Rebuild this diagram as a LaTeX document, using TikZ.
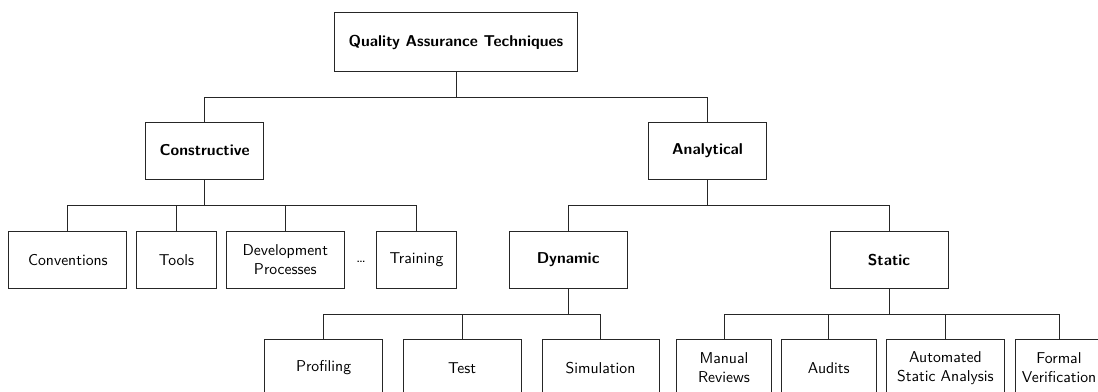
\documentclass[tikz,border=0pt]{standalone}
\tikzset{
  box/.style={draw=black!85, line width=0.6pt, fill=white, minimum height=36.3pt,
              inner sep=2pt, align=center, font=\sffamily},
  hbox/.style={box, font=\sffamily\bfseries},
  link/.style={draw=black!85, line width=0.6pt},
}
\begin{document}
\begin{tikzpicture}[x=0.637pt,y=-0.637pt]
\useasboundingbox (0,0) rectangle (1098,392);
% root
\node[hbox, minimum width=154.8pt, minimum height=37pt] (qa) at (456,42) {Quality Assurance Techniques};
% level 1
\node[hbox, minimum width=75.2pt] (cons) at (204.7,150.5) {Constructive};
\node[hbox, minimum width=75.2pt] (anal) at (707.6,150.5) {Analytical};
% constructive side
\node[box, minimum width=75.2pt] (conv) at (67.9,259.7) {Conventions};
\node[box, minimum width=51pt]   (tools) at (176.6,259.7) {Tools};
\node[box, minimum width=75.2pt] (devp) at (285.3,259.7) {Development\\Processes};
\node[font=\sffamily, inner sep=0pt] (dots) at (361,262) {\dots};
\node[box, minimum width=51pt]   (train) at (416.5,259.7) {Training};
% analytical side
\node[hbox, minimum width=75.2pt] (dyn) at (568.1,259.7) {Dynamic};
\node[hbox, minimum width=75.2pt] (stat) at (889,259.7) {Static};
% dynamic
\node[box, minimum width=75.2pt] (prof) at (323.6,367.8) {Profiling};
\node[box, minimum width=75.2pt] (test) at (462.1,367.8) {Test};
\node[box, minimum width=74.5pt] (sim) at (600.5,367.8) {Simulation};
% static
\node[box, minimum width=60.5pt] (rev) at (724,367.8) {Manual\\Reviews};
\node[box, minimum width=60.5pt] (aud) at (828.8,367.8) {Audits};
\node[box, minimum width=75.2pt] (asa) at (945.4,367.8) {Automated\\Static Analysis};
\node[box, minimum width=56pt]   (fv) at (1059,367.8) {Formal\\Verification};
% connectors
\foreach \c in {cons,anal}
  \draw[link] (qa.south) -- ++(0,25.5) -| (\c.north);
\foreach \c in {conv,tools,devp,train}
  \draw[link] (cons.south) -- ++(0,26) -| (\c.north);
\foreach \c in {dyn,stat}
  \draw[link] (anal.south) -- ++(0,26) -| (\c.north);
\foreach \c in {prof,test,sim}
  \draw[link] (dyn.south) -- ++(0,25.5) -| (\c.north);
\foreach \c in {rev,aud,asa,fv}
  \draw[link] (stat.south) -- ++(0,25.5) -| (\c.north);
\end{tikzpicture}
\end{document}
